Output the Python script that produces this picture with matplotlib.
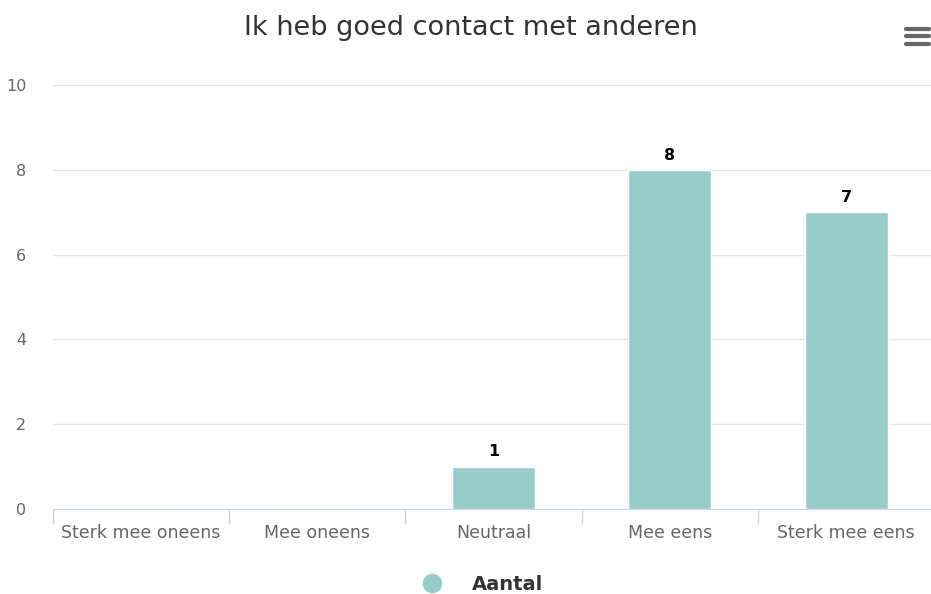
import numpy as np
import matplotlib.pyplot as plt
from matplotlib.lines import Line2D

categories = ["Sterk mee oneens", "Mee oneens", "Neutraal", "Mee eens", "Sterk mee eens"]
aantal = [0, 0, 1, 8, 7]
y_ticks = [0, 2, 4, 6, 8, 10]

bar_color = "#99cbcb"
W, H = 931, 594

fig = plt.figure(figsize=(W / 100, H / 100), dpi=100)
# plot area runs a little past the right edge, as in the reference
ax = fig.add_axes([52.7 / W, (H - 509) / H, (934.3 - 52.7) / W, (509 - 85) / H])

x = np.arange(len(categories))
ax.bar(x, aantal, width=0.47, color=bar_color, edgecolor="white", linewidth=1, zorder=3)
for xi, v in zip(x, aantal):
    if v > 0:
        ax.text(xi, v + 0.17, str(v), ha="center", va="bottom", fontsize=11.5,
                fontweight="bold", color="black")

ax.set_xlim(-0.5, len(categories) - 0.5)
ax.set_ylim(0, 10)
ax.set_yticks(y_ticks)
ax.yaxis.grid(True, color="#e6e6e6", linewidth=1)
ax.set_axisbelow(True)
for s in ["top", "right", "left"]:
    ax.spines[s].set_visible(False)
ax.spines["bottom"].set_color("#ccd6eb")
ax.tick_params(axis="y", length=0, labelsize=11.5, labelcolor="#666666", pad=19)

# category labels at centres, ticks at boundaries
ax.set_xticks(x)
ax.set_xticklabels(categories)
ax.tick_params(axis="x", which="major", length=0, labelsize=12.5, labelcolor="#666666", pad=11)
ax.set_xticks(np.arange(-0.5, len(categories)), minor=True)
ax.tick_params(axis="x", which="minor", length=11, color="#ccd6eb", width=1)

fig.text(471 / W, 1 - 28 / H, "Ik heb goed contact met anderen", ha="center", va="center",
         fontsize=19.5, color="#333333")

# legend
fig.add_artist(Line2D([432 / W], [1 - 583 / H], marker="o", markersize=13, color=bar_color,
                      linestyle="none", transform=fig.transFigure))
fig.text(472 / W, 1 - 585 / H, "Aantal", ha="left", va="center", fontsize=14,
         fontweight="bold", color="#333333")

# menu icon
for yy in [28.5, 36, 43.5]:
    fig.add_artist(Line2D([906 / W, 929 / W], [1 - yy / H] * 2, color="#666666", linewidth=3,
                          solid_capstyle="round", transform=fig.transFigure))

fig.savefig("out.png", dpi=100)
